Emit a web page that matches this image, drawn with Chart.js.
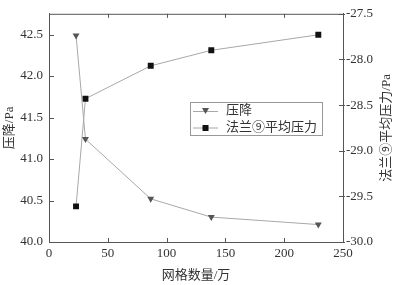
<!DOCTYPE html>
<html>
<head>
<meta charset="utf-8">
<script src="https://cdn.jsdelivr.net/npm/chart.js@4"></script>
<style>
  html, body { margin: 0; padding: 0; background: #fff; }
  #wrap { width: 396px; height: 285px; }
</style>
</head>
<body>
<div id="wrap"><canvas id="myChart" width="396" height="285"></canvas></div>
<script>
const meshCounts = [23, 31, 86.5, 138, 229];
const pressureDrop = [42.49, 41.24, 40.52, 40.30, 40.21];
const flangePressure = [-29.61, -28.43, -28.07, -27.90, -27.73];
const seriesLabels = ['压降', '法兰⑨平均压力'];
const xTitle = '网格数量/万';
const leftTitle = '压降/Pa';
const rightTitle = '法兰⑨平均压力/Pa';

const FONT = '"Liberation Serif", "Noto Sans CJK SC", serif';
const axisColor = '#555';
const lineColor = '#a8a8a8';

// inward tick marks, top frame line, legend box and right title
const framePlugin = {
  id: 'frame',
  afterDraw(chart) {
    const ctx = chart.ctx;
    const a = chart.chartArea;
    ctx.save();
    ctx.strokeStyle = axisColor;
    ctx.lineWidth = 1;
    ctx.beginPath();
    ctx.moveTo(a.left, a.top + 0.5);
    ctx.lineTo(a.right, a.top + 0.5);
    const x = chart.scales.x;
    x.ticks.forEach(t => {
      const px = Math.round(x.getPixelForValue(t.value)) + 0.5;
      ctx.moveTo(px, a.bottom); ctx.lineTo(px, a.bottom - 4);
      ctx.moveTo(px, a.top); ctx.lineTo(px, a.top + 4);
    });
    const y = chart.scales.y;
    y.ticks.forEach(t => {
      const py = Math.round(y.getPixelForValue(t.value)) + 0.5;
      ctx.moveTo(a.left, py); ctx.lineTo(a.left + 5, py);
    });
    const y1 = chart.scales.y1;
    y1.ticks.forEach(t => {
      const py = Math.round(y1.getPixelForValue(t.value)) + 0.5;
      ctx.moveTo(a.right - 4, py); ctx.lineTo(a.right + 2, py);
    });
    ctx.stroke();

    // right title, reading bottom to top
    ctx.fillStyle = '#333';
    ctx.font = '13px ' + FONT;
    ctx.textAlign = 'center';
    ctx.textBaseline = 'middle';
    ctx.translate(387, (a.top + a.bottom) / 2);
    ctx.rotate(-Math.PI / 2);
    ctx.fillText(rightTitle, 0, 0);
    ctx.restore();

    // legend
    ctx.save();
    ctx.strokeStyle = '#999';
    ctx.fillStyle = '#fff';
    ctx.fillRect(190, 102, 132, 33);
    ctx.strokeRect(190.5, 102.5, 132, 33);
    chart.data.datasets.forEach((ds, i) => {
      const ry = 111 + i * 16.5;
      ctx.strokeStyle = lineColor;
      ctx.beginPath();
      ctx.moveTo(193, ry + 0.5); ctx.lineTo(218, ry + 0.5);
      ctx.stroke();
      ctx.fillStyle = ds.pointBackgroundColor;
      ctx.beginPath();
      if (i === 0) {
        ctx.moveTo(202, ry - 3); ctx.lineTo(209, ry - 3); ctx.lineTo(205.5, ry + 3);
        ctx.closePath(); ctx.fill();
      } else {
        ctx.fillRect(202.5, ry - 2.5, 6, 6);
      }
      ctx.fillStyle = '#333';
      ctx.font = '13px ' + FONT;
      ctx.textAlign = 'left';
      ctx.textBaseline = 'middle';
      ctx.fillText(ds.label, 226, ry);
    });
    ctx.restore();
  }
};

const ctx = document.getElementById('myChart').getContext('2d');
new Chart(ctx, {
  type: 'line',
  data: {
    datasets: [
      {
        label: seriesLabels[0],
        data: meshCounts.map((m, i) => ({x: m, y: pressureDrop[i]})),
        yAxisID: 'y',
        borderColor: lineColor,
        borderWidth: 1,
        pointStyle: 'triangle',
        rotation: 180,
        radius: 4,
        pointBackgroundColor: '#555',
        pointBorderColor: '#555',
        pointBorderWidth: 0,
        tension: 0
      },
      {
        label: seriesLabels[1],
        data: meshCounts.map((m, i) => ({x: m, y: flangePressure[i]})),
        yAxisID: 'y1',
        borderColor: lineColor,
        borderWidth: 1,
        pointStyle: 'rect',
        radius: 4.2,
        pointBackgroundColor: '#111',
        pointBorderColor: '#111',
        pointBorderWidth: 0,
        tension: 0
      }
    ]
  },
  options: {
    responsive: false,
    animation: false,
    layout: { padding: { top: 9, left: 0, right: 0, bottom: 0 } },
    plugins: { legend: { display: false }, tooltip: { enabled: false } },
    scales: {
      x: {
        type: 'linear',
        min: 0, max: 250,
        grid: { display: false, drawTicks: false },
        border: { display: true, color: axisColor },
        ticks: { stepSize: 50, padding: 4, color: '#333', font: { family: FONT, size: 13 } },
        title: { display: true, text: xTitle, color: '#333', font: { family: FONT, size: 13 }, padding: { top: 0, bottom: 2 } },
        afterFit(s) { s.height = 43; }
      },
      y: {
        position: 'left',
        min: 40, max: 42.75,
        grid: { display: false, drawTicks: false },
        border: { display: true, color: axisColor },
        ticks: { stepSize: 0.5, includeBounds: false, padding: 6, color: '#333', font: { family: FONT, size: 13 },
          callback: v => v.toFixed(1) },
        title: { display: true, text: leftTitle, color: '#333', font: { family: FONT, size: 13 }, padding: { top: 2, bottom: 0 } },
        afterFit(s) { s.width = 49; }
      },
      y1: {
        position: 'right',
        min: -30, max: -27.5,
        grid: { display: false, drawTicks: false },
        border: { display: true, color: axisColor },
        ticks: { stepSize: 0.5, padding: 3, color: '#333', font: { family: FONT, size: 13 },
          callback: v => v.toFixed(1) },
        afterFit(s) { s.width = 53; }
      }
    }
  },
  plugins: [framePlugin]
});
</script>
</body>
</html>
